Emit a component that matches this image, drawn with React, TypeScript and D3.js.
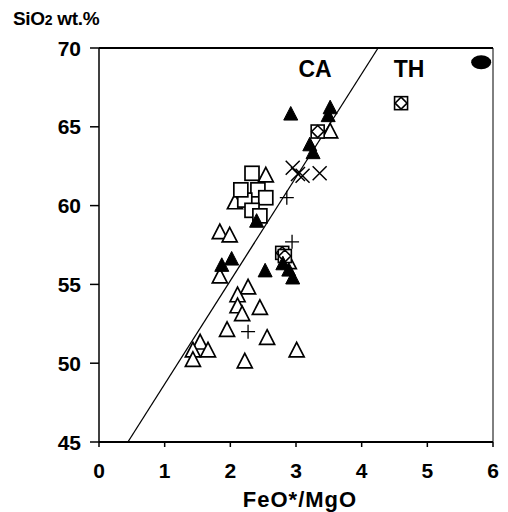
import * as d3 from "d3";

// tick values for both axes
const xTicks = [0, 1, 2, 3, 4, 5, 6];
const yTicks = [45, 50, 55, 60, 65, 70];

// CA / TH dividing line (FeO*/MgO, SiO2)
const divider = [
  [0.44, 45],
  [4.25, 70],
];

// sample groups: [FeO*/MgO, SiO2]
const openTriangles = [
  [2.54, 61.9], [2.07, 60.2], [1.84, 58.3], [1.99, 58.1], [1.84, 55.5],
  [2.27, 54.8], [2.11, 54.3], [2.11, 53.6], [2.18, 53.1], [2.45, 53.5],
  [1.95, 52.1], [2.56, 51.6], [1.54, 51.3], [1.66, 50.8], [1.43, 50.8],
  [1.43, 50.2], [2.22, 50.1], [3.01, 50.8], [3.52, 64.7], [2.89, 56.4],
];
const openSquares = [
  [2.33, 62.05], [2.42, 61.0], [2.22, 60.35], [2.54, 60.5], [2.33, 59.7],
  [2.45, 59.35], [2.16, 61.0],
];
const diamondSquares = [
  [4.6, 66.5], [3.33, 64.7], [2.79, 57.0], [2.83, 56.8],
];
const filledTriangles = [
  [3.52, 66.2], [3.49, 65.7], [2.92, 65.8], [3.21, 63.85], [3.26, 63.35],
  [2.4, 59.0], [1.87, 56.2], [2.02, 56.6], [2.53, 55.85], [2.8, 56.3],
  [2.89, 55.9], [2.95, 55.4],
];
const crosses = [
  [2.95, 62.4], [3.03, 62.0], [3.1, 61.9], [3.36, 62.05],
];
const pluses = [
  [2.86, 60.5], [2.94, 57.7], [2.27, 52.0],
];
const filledEllipse = [[5.82, 69.1]];

const font = "'Liberation Sans', Arial, sans-serif";

export default function App() {
  const margin = { top: 48, right: 15, bottom: 70, left: 99 };
  const width = 508;
  const height = 512;

  // scales
  const x = d3.scaleLinear().domain([0, 6]).range([margin.left, width - margin.right]);
  const y = d3.scaleLinear().domain([45, 70]).range([height - margin.bottom, margin.top]);

  const line = d3.line().x((d) => x(d[0])).y((d) => y(d[1]));

  const tri = (s) => `M0,${-s * 0.55}L${s * 0.5},${s * 0.42}L${-s * 0.5},${s * 0.42}Z`;

  return (
    <svg
      width={width}
      height={height}
      style={{ position: "absolute", left: 0, top: 0, background: "#fff" }}
      fontFamily={font}
    >
      {/* frame */}
      <line x1={x(0)} x2={x(6)} y1={y(70)} y2={y(70)} stroke="#000" strokeWidth={2} />
      <line x1={x(6)} x2={x(6)} y1={y(70)} y2={y(45)} stroke="#000" strokeWidth={1} />
      <line x1={x(0)} x2={x(0)} y1={y(70)} y2={y(45)} stroke="#000" strokeWidth={1.5} />
      <line x1={x(0)} x2={x(6)} y1={y(45)} y2={y(45)} stroke="#000" strokeWidth={2} />

      {/* y ticks */}
      {yTicks.map((t) => (
        <g key={"y" + t}>
          <line x1={x(0) - 9} x2={x(0)} y1={y(t)} y2={y(t)} stroke="#000" strokeWidth={1.5} />
          <text x={81} y={y(t)} dy="0.36em" textAnchor="end" fontSize={21} fontWeight="bold">
            {t}
          </text>
        </g>
      ))}

      {/* x ticks */}
      {xTicks.map((t) => (
        <g key={"x" + t}>
          <line x1={x(t)} x2={x(t)} y1={y(45)} y2={y(45) + 5} stroke="#000" strokeWidth={1.5} />
          <text x={x(t)} y={478} textAnchor="middle" fontSize={21} fontWeight="bold">
            {t}
          </text>
        </g>
      ))}

      {/* axis titles */}
      <text x={13} y={25} fontSize={19} fontWeight="bold" letterSpacing={-0.3}>
        SiO<tspan fontSize={14}>2</tspan> wt.%
      </text>
      <text x={300} y={507} textAnchor="middle" fontSize={22} fontWeight="bold" letterSpacing={1}>
        FeO*/MgO
      </text>

      {/* field labels */}
      <text x={315} y={77} textAnchor="middle" fontSize={23} fontWeight="bold">CA</text>
      <text x={409} y={77} textAnchor="middle" fontSize={23} fontWeight="bold">TH</text>

      {/* dividing line */}
      <path d={line(divider)} fill="none" stroke="#000" strokeWidth={1.3} />

      {/* open triangles */}
      {openTriangles.map((d, i) => (
        <path key={"ot" + i} d={tri(15)} transform={`translate(${x(d[0])},${y(d[1])})`}
          fill="#fff" stroke="#000" strokeWidth={1.7} />
      ))}

      {/* open squares */}
      {openSquares.map((d, i) => (
        <rect key={"sq" + i} x={x(d[0]) - 7} y={y(d[1]) - 7} width={14} height={14}
          fill="#fff" stroke="#000" strokeWidth={1.7} />
      ))}

      {/* diamond in square */}
      {diamondSquares.map((d, i) => (
        <g key={"ds" + i} transform={`translate(${x(d[0])},${y(d[1])})`}>
          <rect x={-6.5} y={-6.5} width={13} height={13} fill="#fff" stroke="#000" strokeWidth={1.6} />
          <path d="M0,-6L6,0L0,6L-6,0Z" fill="#fff" stroke="#000" strokeWidth={1.6} />
        </g>
      ))}

      {/* filled triangles */}
      {filledTriangles.map((d, i) => (
        <path key={"ft" + i} d={tri(14)} transform={`translate(${x(d[0])},${y(d[1])})`}
          fill="#000" stroke="#000" strokeWidth={1} />
      ))}

      {/* crosses */}
      {crosses.map((d, i) => (
        <path key={"cr" + i} d="M-7,-7L7,7M-7,7L7,-7" transform={`translate(${x(d[0])},${y(d[1])})`}
          stroke="#000" strokeWidth={1.5} />
      ))}

      {/* plus signs */}
      {pluses.map((d, i) => (
        <path key={"pl" + i} d="M-7,0L7,0M0,-7L0,7" transform={`translate(${x(d[0])},${y(d[1])})`}
          stroke="#000" strokeWidth={1.3} />
      ))}

      {/* filled ellipse */}
      {filledEllipse.map((d, i) => (
        <ellipse key={"el" + i} cx={x(d[0])} cy={y(d[1])} rx={10} ry={7} fill="#000" />
      ))}
    </svg>
  );
}
